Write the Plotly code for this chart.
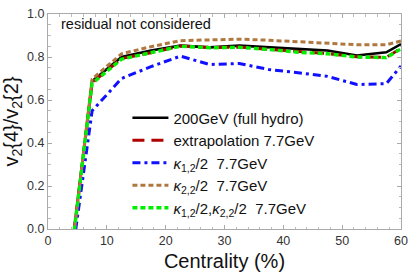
import plotly.graph_objects as go

centrality = [2.5, 7.5, 12.5, 17.5, 22.5, 27.5, 32.5, 37.5, 42.5, 47.5, 52.5, 57.5, 60]
full_hydro_200 = [-0.44, 0.687, 0.80, 0.83, 0.853, 0.845, 0.853, 0.845, 0.838, 0.83, 0.807, 0.822, 0.86]
extrap_77 = [-0.45, 0.68, 0.793, 0.82, 0.851, 0.844, 0.846, 0.836, 0.824, 0.816, 0.801, 0.798, 0.84]
kappa12_77 = [-0.44, 0.55, 0.70, 0.755, 0.804, 0.765, 0.77, 0.742, 0.727, 0.71, 0.672, 0.676, 0.758]
kappa22_77 = [-0.47, 0.698, 0.815, 0.848, 0.876, 0.88, 0.883, 0.878, 0.87, 0.865, 0.857, 0.857, 0.875]
kappa_both_77 = [-0.45, 0.677, 0.79, 0.818, 0.85, 0.843, 0.845, 0.835, 0.822, 0.815, 0.80, 0.797, 0.838]

names = [
    "200GeV (full hydro)",
    "extrapolation 7.7GeV",
    "<i>κ</i><sub>1,2</sub>/2\u00a0 7.7GeV",
    "<i>κ</i><sub>2,2</sub>/2\u00a0 7.7GeV",
    "<i>κ</i><sub>1,2</sub>/2,<i>κ</i><sub>2,2</sub>/2\u00a0 7.7GeV",
]
series = [full_hydro_200, extrap_77, kappa12_77, kappa22_77, kappa_both_77]
styles = [
    dict(color="#000000", width=2.6, dash="solid"),
    dict(color="#b00000", width=3, dash="12px,7px"),
    dict(color="#1010ff", width=3, dash="8px,4px,3px,4px"),
    dict(color="#b07840", width=3, dash="5px,3px"),
    dict(color="#00ee00", width=3.4, dash="5px,3px"),
]

FONT = "Liberation Sans, Arial, sans-serif"
fig = go.Figure()
for n, s, st in zip(names, series, styles):
    fig.add_trace(go.Scatter(x=centrality, y=s, mode="lines", name=n, line=st))

axis_common = dict(
    showline=True, linecolor="#aaaaaa", linewidth=1, mirror="allticks",
    ticks="inside", ticklen=4, tickcolor="#aaaaaa", tickwidth=1,
    showgrid=False, zeroline=False,
    tickfont=dict(family=FONT, size=12.5, color="#333333"),
)
fig.update_xaxes(range=[0, 60], dtick=10, tick0=0,
                 minor=dict(ticks="inside", ticklen=2.5, dtick=2, tickcolor="#bbbbbb"),
                 title=dict(text="Centrality (%)", font=dict(family=FONT, size=20, color="#111"), standoff=6),
                 **axis_common)
fig.update_yaxes(range=[0, 1], dtick=0.2, tick0=0, tickformat=".1f",
                 minor=dict(ticks="inside", ticklen=2.5, dtick=0.05, tickcolor="#bbbbbb"),
                 title=dict(text="v<sub>2</sub>{4}/v<sub>2</sub>{2}", font=dict(family=FONT, size=20, color="#111"), standoff=6),
                 **axis_common)

fig.add_annotation(text="residual not considered", xref="paper", yref="paper",
                   x=0.032, y=0.952, xanchor="left", yanchor="middle", showarrow=False,
                   font=dict(family=FONT, size=14.5, color="#111"))

fig.update_layout(
    width=415, height=275,
    margin=dict(l=48, r=7, t=7, b=46),
    paper_bgcolor="white", plot_bgcolor="white",
    legend=dict(x=0.225, y=0.593, xanchor="left", yanchor="top",
                bgcolor="rgba(0,0,0,0)", font=dict(family=FONT, size=15, color="#111"),
                itemwidth=36, tracegroupgap=0),
    showlegend=True,
)
fig.write_html("out.html", config={"displayModeBar": False},
               post_script="document.body.style.margin='0px';document.body.style.padding='0px';")
